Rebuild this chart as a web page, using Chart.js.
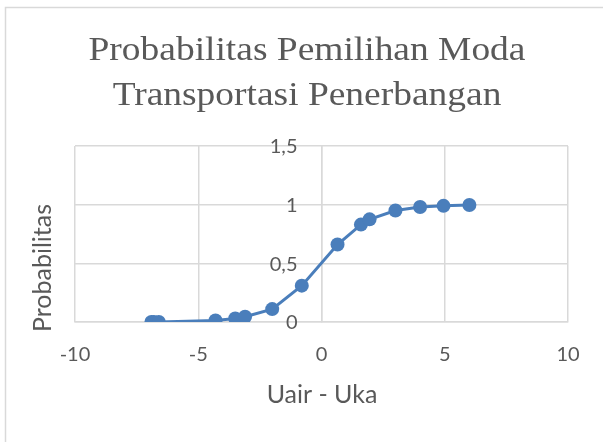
<!DOCTYPE html>
<html>
<head>
<meta charset="utf-8">
<script src="https://cdn.jsdelivr.net/npm/chart.js@4.4.0/dist/chart.umd.min.js"></script>
<style>
  html, body { margin: 0; padding: 0; background: #fff; }
  #wrap { width: 603px; height: 442px; }
</style>
</head>
<body>
<div id="wrap"><canvas id="myChart" width="603" height="442"></canvas></div>
<script>
// Data
const chartTitle = ['Probabilitas Pemilihan Moda', 'Transportasi Penerbangan'];
const xAxisTitle = 'Uair - Uka';
const yAxisTitle = 'Probabilitas';
const xValues = [-6.9, -6.8, -6.6, -4.3, -3.5, -3.1, -2.0, -0.8, 0.65, 1.6, 1.95, 3.0, 4.0, 4.95, 6.0];
const yValues = [0.001, 0.001, 0.001, 0.013, 0.03, 0.045, 0.11, 0.31, 0.66, 0.83, 0.875, 0.95, 0.98, 0.99, 0.997];
const xTicks = [-10, -5, 0, 5, 10];
const yTicks = [0, 0.5, 1, 1.5];

const textColor = '#595959';
const gridColor = '#d9d9d9';
const lineColor = '#4a7ebb';

// Titels, rand, as-titels en y-labels naast de as op x = 0
const decorPlugin = {
    id: 'decor',
    beforeDraw(chart) {
        const ctx = chart.ctx;
        ctx.save();
        ctx.fillStyle = '#fff';
        ctx.fillRect(0, 0, chart.width, chart.height);
        ctx.strokeStyle = gridColor;
        ctx.lineWidth = 1.5;
        ctx.strokeRect(5.5, 7.5, 640, 460);
        ctx.restore();
    },
    afterDraw(chart) {
        const ctx = chart.ctx;
        const xScale = chart.scales.x;
        const yScale = chart.scales.y;
        ctx.save();
        ctx.fillStyle = textColor;

        // y-as labels, rechts uitgelijnd links van de as
        ctx.font = '20px Lato';
        ctx.textAlign = 'right';
        ctx.textBaseline = 'middle';
        const axisX = xScale.getPixelForValue(0);
        yTicks.forEach(v => {
            ctx.fillText(String(v).replace('.', ','), axisX - 24, yScale.getPixelForValue(v) + 1);
        });

        ctx.textAlign = 'center';
        ctx.textBaseline = 'alphabetic';
        ctx.save();
        ctx.translate(307, 0);
        ctx.scale(1.135, 1);
        ctx.font = '33px "Liberation Serif"';
        ctx.fillText(chartTitle[0], 0, 60);
        ctx.fillText(chartTitle[1], 0, 105);
        ctx.restore();

        ctx.font = '25px Lato';
        ctx.fillText(xAxisTitle, 322, 403);

        ctx.translate(51, 268);
        ctx.rotate(-Math.PI / 2);
        ctx.fillText(yAxisTitle, 0, 0);
        ctx.restore();
    }
};

const ChartCanvas = document.getElementById('myChart');
const myChart = new Chart(ChartCanvas, {
    type: 'scatter',
    data: {
        datasets: [{
            data: xValues.map((x, i) => ({ x: x, y: yValues[i] })),
            showLine: true,
            tension: 0,
            borderColor: lineColor,
            backgroundColor: lineColor,
            borderWidth: 3,
            pointRadius: 7,
            pointHoverRadius: 7,
            pointBorderWidth: 0
        }]
    },
    options: {
        responsive: false,
        animation: false,
        events: [],
        layout: {
            padding: { left: 75, right: 35, top: 146, bottom: 0 }
        },
        plugins: {
            legend: { display: false },
            title: { display: false },
            tooltip: { enabled: false }
        },
        scales: {
            x: {
                type: 'linear',
                min: xTicks[0],
                max: xTicks[xTicks.length - 1],
                afterBuildTicks: (scale) => { scale.ticks = xTicks.map(v => ({ value: v })); },
                afterFit: (scale) => { scale.height = 120; },
                grid: { color: gridColor, lineWidth: 1.5, drawTicks: false },
                border: { color: gridColor, width: 1.5 },
                ticks: {
                    color: textColor,
                    font: { family: 'Lato', size: 20 },
                    padding: 21
                }
            },
            y: {
                type: 'linear',
                position: { x: 0 },
                min: yTicks[0],
                max: yTicks[yTicks.length - 1],
                afterBuildTicks: (scale) => { scale.ticks = yTicks.map(v => ({ value: v })); },
                grid: { color: gridColor, lineWidth: 1.5, drawTicks: false },
                border: { color: gridColor, width: 1.5 },
                ticks: { display: false }
            }
        }
    },
    plugins: [decorPlugin]
});
</script>
</body>
</html>
